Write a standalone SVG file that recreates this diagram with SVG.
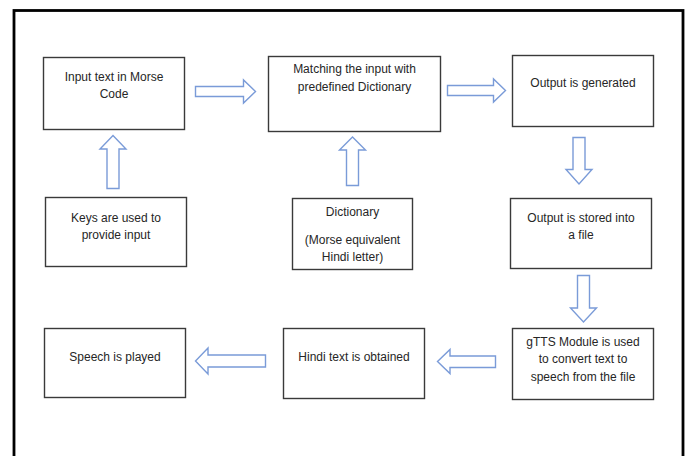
<svg xmlns="http://www.w3.org/2000/svg" width="688" height="456" viewBox="0 0 688 456">
<style>
.box{fill:#fff;stroke:#3a3a3a;stroke-width:1.4}
.arr{fill:#fff;stroke:#7A9BD8;stroke-width:1.4;stroke-linejoin:miter}
text{font-family:"Liberation Sans",Arial,sans-serif;font-size:12px;fill:#262626;text-anchor:middle}
</style>
<rect x="0" y="0" width="688" height="456" fill="#fff"/>
<rect x="14" y="10.5" width="669" height="470" fill="none" stroke="#000" stroke-width="2.8"/>
<g id="n1"><rect class="box" x="43.5" y="57.5" width="141" height="72"/><text x="114" y="81">Input text in Morse</text><text x="114" y="98">Code</text></g>
<g id="n2"><rect class="box" x="268.5" y="56.5" width="172" height="75"/><text x="354.5" y="73">Matching the input with</text><text x="354.5" y="91">predefined Dictionary</text></g>
<g id="n3"><rect class="box" x="512.5" y="55.5" width="141" height="71"/><text x="583" y="87">Output is generated</text></g>
<g id="n4"><rect class="box" x="510.5" y="198.5" width="141" height="70"/><text x="581" y="222">Output is stored into</text><text x="581" y="239">a file</text></g>
<g id="n5"><rect class="box" x="45.5" y="197.5" width="141" height="69"/><text x="116" y="222">Keys are used to</text><text x="116" y="239">provide input</text></g>
<g id="n6"><rect class="box" x="44.5" y="328.5" width="141" height="69"/><text x="115" y="361">Speech is played</text></g>
<g id="n7"><rect class="box" x="292.5" y="198.5" width="120" height="71"/><text x="352.5" y="216">Dictionary</text><text x="352.5" y="244">(Morse equivalent</text><text x="352.5" y="261">Hindi letter)</text></g>
<g id="n8"><rect class="box" x="283.5" y="328.5" width="141" height="70"/><text x="354" y="361">Hindi text is obtained</text></g>
<g id="n9"><rect class="box" x="512.5" y="328.5" width="141" height="71"/><text x="583" y="346">gTTS Module is used</text><text x="583" y="363">to convert text to</text><text x="583" y="381">speech from the file</text></g>
<g id="connectors">
<path class="arr" d="M195.5,86.5 H243.5 V80 L255.5,91.5 L243.5,103 V96.5 H195.5 Z"/>
<path class="arr" d="M447.5,85.5 H493.5 V79 L505.5,90.5 L493.5,102 V95.5 H447.5 Z"/>
<path class="arr" d="M107,188.5 V149 H100 L113,135.5 L126,149 H119 V188.5 Z"/>
<path class="arr" d="M346.5,185.5 V150 H339.5 L352.5,137 L365.5,150 H358.5 V185.5 Z"/>
<path class="arr" d="M573,137.5 V169.5 H566 L579,184 L592,169.5 H585 V137.5 Z"/>
<path class="arr" d="M577.5,275.5 V308 H570.5 L583.5,322 L596.5,308 H589.5 V275.5 Z"/>
<path class="arr" d="M265.5,355 H208 V348 L195.5,361 L208,374 V367 H265.5 Z"/>
<path class="arr" d="M495.5,356 H450 V349.5 L437.5,361.5 L450,373.5 V367.5 H495.5 Z"/>
</g>
</svg>
